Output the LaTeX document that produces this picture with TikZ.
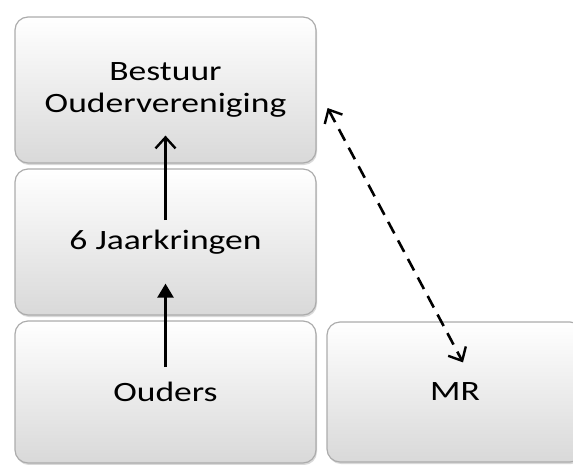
\documentclass[tikz,border=0pt]{standalone}
\usepackage{fontspec}
\setmainfont{Carlito}
\usetikzlibrary{arrows.meta,shadows}
\tikzset{
  box/.style={rectangle, rounded corners=13pt, draw=gray!65, line width=1.2pt,
    top color=white, bottom color=gray!30, inner sep=0pt,
    drop shadow={opacity=0.3, shadow xshift=1pt, shadow yshift=-2pt},
    font=\fontsize{28}{32}\selectfont, align=center},
  conn/.style={line width=2.6pt, black},
  opentip/.tip={Straight Barb[length=11pt,width=20pt,line width=2.4pt]},
}
\newcommand{\wtxt}[1]{\scalebox{1.27}[1]{#1}}
\begin{document}
\begin{tikzpicture}[x=1pt,y=-1pt]
\useasboundingbox (0,0) rectangle (573,464);
\begin{scope}
\clip (0,0) rectangle (573,464);
\node[box, minimum width=301pt, minimum height=146pt] (best) at (165.5,90)
  {\wtxt{Bestuur}\\\wtxt{Oudervereniging}};
\node[box, minimum width=301pt, minimum height=146pt] (jaar) at (165.5,242)
  {\wtxt{6 Jaarkringen}};
\node[box, minimum width=301pt, minimum height=142pt] (oud) at (165.5,392)
  {\wtxt{Ouders}};
\node[box, minimum width=256pt, minimum height=140pt] (mr) at (455,392)
  {\wtxt{MR}};
\end{scope}
\draw[conn, -{Triangle[length=14pt,width=16pt]}] ([yshift=25pt]oud.center) -- ([yshift=32pt]jaar.south);
\draw[conn, -opentip] ([yshift=22pt]jaar.center) -- ([yshift=28pt]best.south);
\draw[conn, dash pattern=on 13pt off 8pt, opentip-opentip]
  ([xshift=11pt,yshift=-18pt]best.east) -- ([xshift=8pt,yshift=-41pt]mr.north);
\end{tikzpicture}
\end{document}
